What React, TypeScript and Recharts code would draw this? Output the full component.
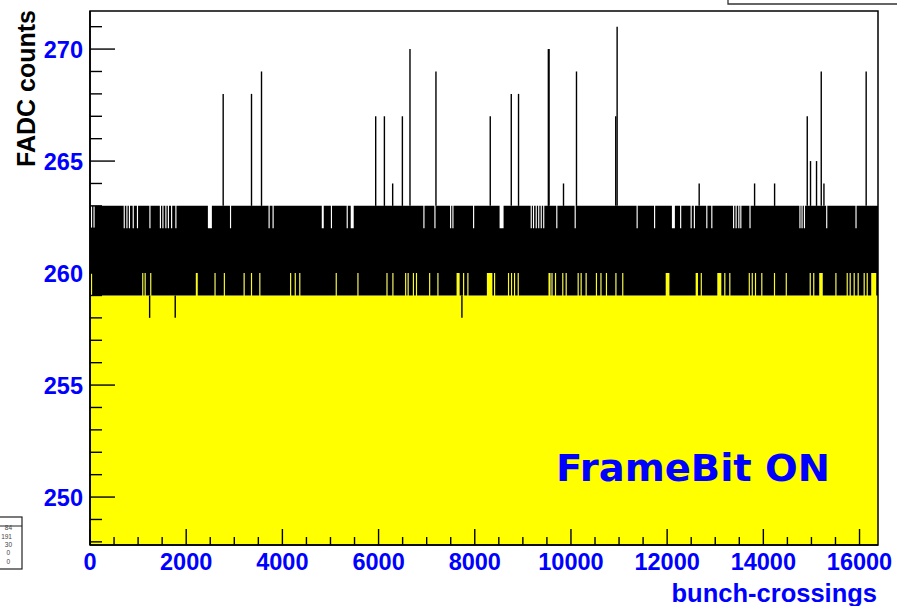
import React from 'react';
import { ComposedChart, Area, Scatter, ErrorBar, XAxis, YAxis, ReferenceArea } from 'recharts';

const X_MAX = 16384;
const Y_MIN = 247.86;
const Y_MAX = 271.7;
const BASE_LO = 259;
const BASE_HI = 263;
const GAP_LO = 260;
const GAP_HI = 262;

// intervals (bunch-crossings) where the upper edge of the band drops to 262
const topGaps: [number, number][] = [
  [20, 44], [72, 96], [700, 724], [756, 780], [808, 832], [887, 911], [975, 999], [1234, 1258],
  [1452, 1476], [1504, 1528], [1566, 1590], [1618, 1642], [1685, 1709], [1774, 1798], [2451, 2534],
  [2910, 2934], [3712, 3736], [3795, 3819], [4819, 4860], [5008, 5032], [5336, 5360], [5421, 5483],
  [6931, 6955], [7160, 7184], [7486, 7510], [7534, 7558], [7964, 7988], [8516, 8599], [9162, 9186],
  [9210, 9234], [9266, 9290], [9318, 9342], [9370, 9394], [9422, 9446], [9694, 9718], [10076, 10100],
  [11364, 11388], [11727, 11751], [12099, 12161], [12269, 12293], [12487, 12511], [12554, 12578],
  [12813, 12837], [12917, 12941], [13370, 13394], [13422, 13446], [13478, 13502], [13520, 13544],
  [13711, 13735], [14749, 14773], [14793, 14817], [14843, 14867], [15306, 15330], [15915, 15939],
];

// intervals where the lower edge of the band rises to 260
const bottomGaps: [number, number][] = [
  [20, 44], [1085, 1109], [1135, 1159], [1251, 1275], [2200, 2240], [2588, 2612], [2782, 2806],
  [3193, 3217], [3346, 3370], [3519, 3543], [4159, 4183], [4256, 4280], [4350, 4374], [5108, 5132],
  [5559, 5583], [6163, 6187], [6286, 6310], [6551, 6575], [6603, 6627], [6713, 6737], [6776, 6800],
  [7050, 7074], [7222, 7246], [7622, 7685], [7756, 7780], [7845, 7869], [8252, 8366], [8400, 8424],
  [8690, 8714], [8753, 8777], [8815, 8839], [8892, 8916], [9533, 9575], [9594, 9618], [9667, 9691],
  [9818, 9842], [9889, 9913], [10138, 10162], [10200, 10224], [10304, 10328], [10518, 10542],
  [10612, 10636], [10726, 10750], [10923, 10947], [11065, 11089], [11970, 12047], [12593, 12641],
  [12698, 12722], [13043, 13126], [13187, 13211], [13291, 13315], [13696, 13720], [13758, 13782],
  [13825, 13849], [13956, 13980], [14220, 14244], [14465, 14489], [14963, 14987], [15036, 15060],
  [15162, 15235], [15497, 15521], [15732, 15756], [15794, 15818], [15877, 15901], [15960, 15984],
  [16085, 16109], [16148, 16172], [16243, 16347],
];

// single-bin spikes above the band: [bunch-crossing, FADC counts]
const spikesUp: [number, number][] = [
  [2769, 268], [3358, 268], [3566, 269], [5940, 267], [6121, 267], [6293, 264], [6495, 267],
  [6653, 270], [7193, 269], [8322, 267], [8759, 268], [8910, 268], [9530, 270], [9545, 270],
  [9845, 264], [10115, 269], [10931, 267], [10960, 271], [12666, 264], [13818, 264], [14234, 264],
  [14913, 267], [14981, 265], [15106, 265], [15204, 269], [15260, 264], [16138, 269],
];

// single-bin dips below the band
const spikesDown: [number, number][] = [
  [1240, 258], [1772, 258], [7733, 258],
];

const yTicks = [248, 249, 250, 251, 252, 253, 254, 255, 256, 257, 258, 259, 260, 261, 262, 263, 264, 265, 266, 267, 268, 269, 270, 271];
const yLabels = [250, 255, 260, 265, 270];
const xTicks = [0, 500, 1000, 1500, 2000, 2500, 3000, 3500, 4000, 4500, 5000, 5500, 6000, 6500, 7000, 7500, 8000, 8500, 9000, 9500, 10000, 10500, 11000, 11500, 12000, 12500, 13000, 13500, 14000, 14500, 15000, 15500, 16000];
const xLabels = [0, 2000, 4000, 6000, 8000, 10000, 12000, 14000, 16000];

const inAny = (x: number, list: [number, number][]) => list.some(([a, b]) => x >= a && x < b);

const buildBand = () => {
  const pts = new Set<number>([0, X_MAX]);
  topGaps.forEach(([a, b]) => { pts.add(a); pts.add(b); });
  bottomGaps.forEach(([a, b]) => { pts.add(a); pts.add(b); });
  const xs = Array.from(pts).sort((a, b) => a - b);
  return xs.map((x) => {
    const lo = inAny(x, bottomGaps) ? GAP_LO : BASE_LO;
    const hi = inAny(x, topGaps) ? GAP_HI : BASE_HI;
    return { x, lo, band: [lo, hi] };
  });
};

const bandData = buildBand();
const spikeData = [
  ...spikesUp.map(([x, v]) => ({ x, y: v, err: [v - (inAny(x, topGaps) ? GAP_HI : BASE_HI), 0] })),
  ...spikesDown.map(([x, v]) => ({ x, y: v, err: [0, (inAny(x, bottomGaps) ? GAP_LO : BASE_LO) - v] })),
];

const BLUE = '#0000ff';
const FONT = '"Liberation Sans", Arial, Helvetica, sans-serif';

const YTick = (props: any) => {
  const { x, y, payload } = props;
  const v = payload.value;
  const major = yLabels.includes(v);
  return (
    <g>
      <line x1={x} x2={x + (major ? 25 : 12)} y1={y} y2={y} stroke="#000" strokeWidth={1.4} />
      {major && (
        <text x={x - 7} y={y} dy={8.5} textAnchor="end" fill={BLUE} fontSize={23.5} fontWeight="bold" fontFamily={FONT}>
          {v}
        </text>
      )}
    </g>
  );
};

const XTick = (props: any) => {
  const { x, y, payload } = props;
  const v = payload.value;
  const major = xLabels.includes(v);
  return (
    <g>
      <line x1={x} x2={x} y1={y} y2={y - (major ? 16 : 8)} stroke="#000" strokeWidth={1.4} />
      {major && (
        <text x={x} y={y + 25} textAnchor="middle" fill={BLUE} fontSize={23.5} fontWeight="bold" fontFamily={FONT}>
          {v}
        </text>
      )}
    </g>
  );
};

export default function App() {
  return (
    <div style={{ position: 'absolute', left: 0, top: 0, width: 897, height: 606, background: '#fff', overflow: 'hidden' }}>
      <ComposedChart width={897} height={606} data={bandData} margin={{ top: 11, right: 19, bottom: 0, left: 0 }}>
        <Area
          type="stepAfter"
          dataKey="lo"
          stroke="none"
          fill="#ffff00"
          fillOpacity={1}
          isAnimationActive={false}
          dot={false}
          activeDot={false}
        />
        <Area
          type="stepAfter"
          dataKey="band"
          stroke="none"
          fill="#000"
          fillOpacity={1}
          isAnimationActive={false}
          dot={false}
          activeDot={false}
        />
        <Scatter data={spikeData} dataKey="y" isAnimationActive={false} shape={() => <g />}>
          <ErrorBar dataKey="err" direction="y" width={0} stroke="#000" strokeWidth={1.4} />
        </Scatter>
        <ReferenceArea
          x1={0}
          x2={X_MAX}
          y1={Y_MIN}
          y2={Y_MAX}
          fill="none"
          stroke="#000"
          strokeWidth={1.5}
          ifOverflow="visible"
        />
        <XAxis
          dataKey="x"
          type="number"
          domain={[0, X_MAX]}
          allowDataOverflow
          ticks={xTicks}
          interval={0}
          tick={<XTick />}
          tickLine={false}
          tickSize={0}
          tickMargin={0}
          height={61}
          axisLine={{ stroke: '#000', strokeWidth: 1.5 }}
        />
        <YAxis
          type="number"
          domain={[Y_MIN, Y_MAX]}
          allowDataOverflow
          ticks={yTicks}
          interval={0}
          tick={<YTick />}
          tickLine={false}
          tickSize={0}
          tickMargin={0}
          width={90}
          axisLine={{ stroke: '#000', strokeWidth: 1.6 }}
        />
      </ComposedChart>
      <svg width={897} height={606} style={{ position: 'absolute', left: 0, top: 0, pointerEvents: 'none' }}>
        <text
          transform="translate(35,10) rotate(-90)"
          textAnchor="end"
          fontSize={25}
          fontWeight="bold"
          fontFamily={FONT}
          fill="#000"
        >
          FADC counts
        </text>
        <text x={877} y={602} textAnchor="end" fontSize={25.5} fontWeight="bold" fontFamily={FONT} fill={BLUE}>
          bunch-crossings
        </text>
        <text x={556} y={481} fontSize={37} textLength={274} lengthAdjust="spacingAndGlyphs" fontWeight="bold" fontFamily='"DejaVu Sans", sans-serif' fill={BLUE}>
          FrameBit ON
        </text>
        <polyline points="728,0 728,4 897,4" fill="none" stroke="#333" strokeWidth={1.3} />
        <rect x={-2} y={517} width={24} height={52} fill="#fff" stroke="#222" strokeWidth={1.2} />
        <line x1={-2} x2={22} y1={526} y2={526} stroke="#222" strokeWidth={1} />
        <g fontSize={6.5} fontFamily={FONT} fill="#444" textAnchor="end">
          <text x={12} y={530}>84</text>
          <text x={12} y={539}>191</text>
          <text x={12} y={547}>30</text>
          <text x={10} y={555}>0</text>
          <text x={10} y={564}>0</text>
        </g>
      </svg>
    </div>
  );
}
